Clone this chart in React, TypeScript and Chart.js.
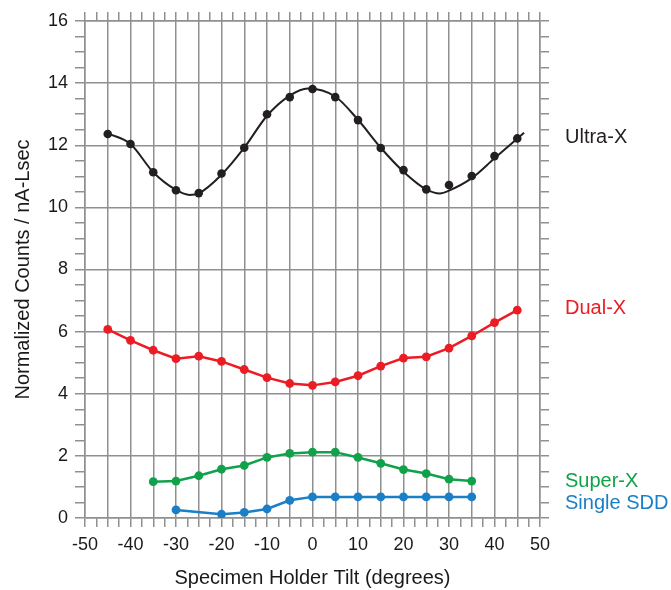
import React, { useEffect, useRef } from 'react';
import { Chart, registerables } from 'chart.js';

Chart.register(...registerables);

// ---- data ----
const tilt = [-45, -40, -35, -30, -25, -20, -15, -10, -5, 0, 5, 10, 15, 20, 25, 30, 35, 40, 45];
const ultraX = [12.36, 12.04, 11.13, 10.55, 10.46, 11.09, 11.92, 13.0, 13.55, 13.81, 13.55, 12.81, 11.91, 11.2, 10.58, 10.72, 11.01, 11.65, 12.22];
const dualX = [6.07, 5.72, 5.4, 5.13, 5.21, 5.04, 4.78, 4.52, 4.33, 4.27, 4.38, 4.58, 4.89, 5.15, 5.19, 5.47, 5.86, 6.29, 6.69];

const superTilt = [-35, -30, -25, -20, -15, -10, -5, 0, 5, 10, 15, 20, 25, 30, 35];
const superX = [1.17, 1.19, 1.36, 1.57, 1.69, 1.95, 2.08, 2.12, 2.12, 1.95, 1.76, 1.56, 1.43, 1.25, 1.19];

const sddTilt = [-30, -20, -15, -10, -5, 0, 5, 10, 15, 20, 25, 30, 35];
const singleSDD = [0.26, 0.12, 0.18, 0.29, 0.57, 0.68, 0.68, 0.68, 0.68, 0.68, 0.68, 0.68, 0.68];

// fitted curve through the Ultra-X points
const fitTilt = [-45, -40, -35, -30, -27, -25, -20, -15, -10, -5, -1, 5, 10, 15, 20, 25, 28, 30, 35, 40, 46.5];
const fitUltraX = [12.38, 12.04, 11.13, 10.56, 10.4, 10.45, 11.05, 11.92, 12.95, 13.6, 13.83, 13.57, 12.82, 11.92, 11.15, 10.58, 10.45, 10.54, 10.94, 11.58, 12.4];

const seriesNames = ['Ultra-X', 'Dual-X', 'Super-X', 'Single SDD'];
const seriesColors = ['#231f20', '#ec1c24', '#10a24b', '#1a7fc6'];
const labelAnchors = [12.25, 6.75, 1.17, 0.47];

const xTitle = 'Specimen Holder Tilt (degrees)';
const yTitle = 'Normalized Counts / nA-Lsec';

const FONT = "'Liberation Sans', Arial, Helvetica, sans-serif";
const GRID = '#909090';
const TEXT = '#1a1a1a';

const pts = (xs: number[], ys: number[]) => xs.map((x, i) => ({ x, y: ys[i] }));

const isMult = (v: number, m: number) => Math.abs(v / m - Math.round(v / m)) < 1e-6;

export default function App() {
  const ref = useRef<HTMLCanvasElement | null>(null);

  useEffect(() => {
    document.body.style.margin = '0';
    const canvas = ref.current!;
    Chart.defaults.font.family = FONT;

    const labelPlugin = {
      id: 'seriesLabels',
      afterDraw(chart: any) {
        const ctx = chart.ctx;
        const ys = chart.scales.y;
        ctx.save();
        ctx.font = `20px ${FONT}`;
        ctx.textAlign = 'left';
        ctx.textBaseline = 'middle';
        seriesNames.forEach((name, i) => {
          ctx.fillStyle = seriesColors[i];
          ctx.fillText(name, chart.chartArea.right + 25, ys.getPixelForValue(labelAnchors[i]));
        });
        ctx.restore();
      },
    };

    const lineSet = (label: string, data: any[], color: string) => ({
      label,
      data,
      showLine: true,
      borderColor: color,
      backgroundColor: color,
      borderWidth: 2.5,
      pointRadius: 4.4,
      pointBorderWidth: 0,
      pointBackgroundColor: color,
      tension: 0,
    });

    const chart = new Chart(canvas, {
      type: 'scatter',
      data: {
        datasets: [
          {
            label: 'Ultra-X fit',
            data: pts(fitTilt, fitUltraX),
            showLine: true,
            borderColor: seriesColors[0],
            borderWidth: 2,
            pointRadius: 0,
            cubicInterpolationMode: 'monotone',
          } as any,
          {
            label: 'Ultra-X',
            data: pts(tilt, ultraX),
            showLine: false,
            pointRadius: 4.3,
            pointBorderWidth: 0,
            pointBackgroundColor: seriesColors[0],
            backgroundColor: seriesColors[0],
          },
          lineSet('Dual-X', pts(tilt, dualX), seriesColors[1]),
          lineSet('Super-X', pts(superTilt, superX), seriesColors[2]),
          lineSet('Single SDD', pts(sddTilt, singleSDD), seriesColors[3]),
        ],
      },
      options: {
        responsive: false,
        animation: false,
        layout: { padding: 0 },
        plugins: { legend: { display: false }, tooltip: { enabled: false } },
        scales: {
          x: {
            type: 'linear',
            position: 'bottom',
            min: -50,
            max: 50,
            afterFit: (s: any) => { s.height = 72; },
            ticks: {
              stepSize: 2.5,
              autoSkip: false,
              maxRotation: 0,
              padding: 7,
              color: TEXT,
              font: { size: 18 },
              callback: (v: any) => (isMult(Number(v), 10) ? String(v) : ''),
            },
            grid: {
              color: (c: any) => (isMult(c.tick.value, 5) ? GRID : 'rgba(0,0,0,0)'),
              tickColor: GRID,
              tickLength: 9,
              lineWidth: 1.5,
            },
            border: { color: GRID, width: 1.5 },
            title: { display: true, text: xTitle, color: TEXT, font: { size: 20 }, padding: 0 },
          },
          x2: {
            type: 'linear',
            position: 'top',
            min: -50,
            max: 50,
            afterFit: (s: any) => { s.height = 21; },
            ticks: { stepSize: 2.5, autoSkip: false, display: false },
            grid: { drawOnChartArea: false, tickColor: GRID, tickLength: 9, lineWidth: 1.5 },
            border: { color: GRID, width: 1.5 },
          },
          y: {
            type: 'linear',
            position: 'left',
            min: 0,
            max: 16,
            afterFit: (s: any) => { s.width = 85; },
            ticks: {
              stepSize: 0.5,
              autoSkip: false,
              padding: 7,
              color: TEXT,
              font: { size: 18 },
              callback: (v: any) => (isMult(Number(v), 2) ? String(v) : ''),
            },
            grid: {
              color: (c: any) => (isMult(c.tick.value, 2) ? GRID : 'rgba(0,0,0,0)'),
              tickColor: GRID,
              tickLength: 10,
              lineWidth: 1.5,
            },
            border: { color: GRID, width: 1.5 },
            title: { display: true, text: yTitle, color: TEXT, font: { size: 20 }, padding: { top: 11, bottom: 0 } },
          },
          y2: {
            type: 'linear',
            position: 'right',
            min: 0,
            max: 16,
            afterFit: (s: any) => { s.width = 131; },
            ticks: { stepSize: 0.5, autoSkip: false, display: false },
            grid: { drawOnChartArea: false, tickColor: GRID, tickLength: 9, lineWidth: 1.5 },
            border: { color: GRID, width: 1.5 },
          },
        },
      } as any,
      plugins: [labelPlugin],
    });

    return () => chart.destroy();
  }, []);

  return <canvas ref={ref} width={671} height={590} style={{ display: 'block', width: 671, height: 590 }} />;
}
